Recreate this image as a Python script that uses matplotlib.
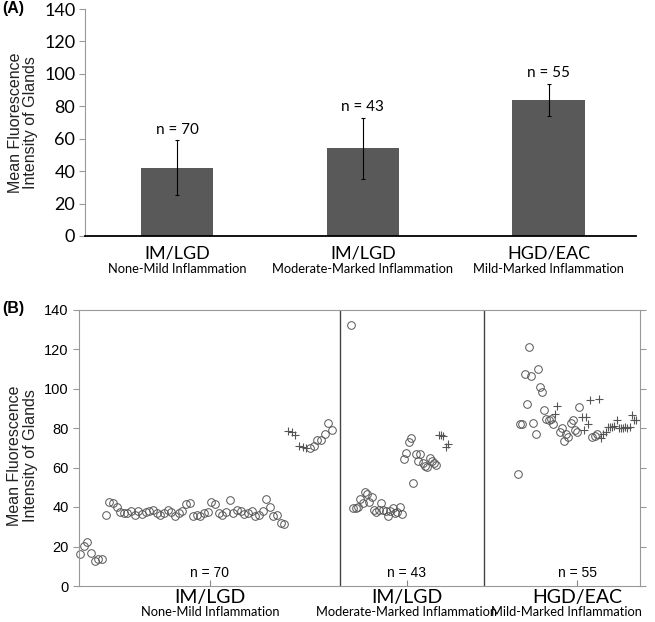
import numpy as np
import matplotlib.pyplot as plt
import matplotlib.transforms as mtransforms

# panel A: group means and SDs
groups = ['IM/LGD', 'IM/LGD', 'HGD/EAC']
subgroups = ['None-Mild Inflammation', 'Moderate-Marked Inflammation', 'Mild-Marked Inflammation']
n_labels = ['n = 70', 'n = 43', 'n = 55']
means = [42, 54, 84]
sds = [17, 19, 10]

# panel B: individual gland values (in plotted order), 'o' circle, '+' cross
g1_vals = [16, 20.3, 22.3, 16.9, 12.8, 13.9, 13.9, 36, 42.7, 42.2, 40.2, 37.5, 37, 36.8, 38, 36,
           38, 36.5, 37.5, 38, 38.5, 37, 36, 37, 38.5, 37.5, 35.3, 37, 38, 41.5, 42, 35.5, 35.8,
           35.3, 37, 37.5, 42.4, 41.5, 37, 35.8, 37.5, 43.4, 37, 38.5, 38, 36.5, 37, 38, 35.3, 36,
           38, 44, 40.2, 35.3, 35.8, 32, 31.6,
           78.5, 77.9, 76.5, 71, 70.6, 70.1,
           69.8, 71, 74, 74, 76.9, 82.4, 79.2]
g1_kind = ['o'] * 57 + ['+'] * 6 + ['o'] * 7

g2_vals = [132,
           39.4, 39.7, 40.2, 44.1, 42, 47.8, 46.5, 42.4, 45.3, 38.3, 37.5, 38.5, 42, 38.5, 38,
           35.3, 38, 39.4, 37.2, 37.7, 40.2, 36.3,
           64.2, 67.2, 73.1, 74.8, 51.9, 66.9, 63.3, 66.6, 62.2, 60.8, 60.1, 64.7, 63.3, 62.5, 61.3,
           76.5, 76.4, 76, 70.6, 71.8]
g2_kind = ['o'] * 38 + ['+'] * 5

g3_vals = [56.9, 81.9, 81.9, 107.3, 91.9, 120.8, 106.1, 82.3, 77.2, 110, 100.7, 98, 89.2, 84.5,
           83.8, 84.5, 81.9,
           87.3, 91.2,
           77.9, 80.2, 73.5, 76.9, 75.3, 82.3, 84.1, 79.1, 77.9, 90.4,
           85.5, 79.1, 85.5, 82.1, 94.1,
           75.3, 76, 77.2,
           94.8, 74.8, 77.2, 78, 80.6, 80.4, 80.7, 81.1, 83.8, 80.2, 80.2, 80.2, 80.7, 80.2, 80.7,
           86.7, 83.8, 83.8]
g3_kind = ['o'] * 17 + ['+'] * 2 + ['o'] * 10 + ['+'] * 5 + ['o'] * 3 + ['+'] * 18

calibri = ['Lato', 'DejaVu Sans']   # stand-in for the Calibri-looking labels
plt.rcParams['font.family'] = ['Liberation Sans', 'DejaVu Sans']

W, H = 655, 622
fig = plt.figure(figsize=(W / 100, H / 100), dpi=100)

# ---------------- (A) ----------------
axA = fig.add_axes([85 / W, 1 - 236 / H, (636 - 85) / W, (236 - 9) / H])
x = np.arange(len(means))
axA.bar(x, means, width=0.39, color='#595959', zorder=2)
axA.errorbar(x, means, yerr=sds, fmt='none', ecolor='black', elinewidth=0.8,
             capsize=1.5, capthick=0.8, zorder=3)
for xi, m, s, lab in zip(x, means, sds, n_labels):
    axA.text(xi, m + s + 2, lab, ha='center', va='bottom', fontsize=11, family=calibri)
axA.set_xlim(-0.495, 2.47)
axA.set_ylim(0, 140)
axA.set_yticks(np.arange(0, 141, 20))
axA.set_xticks([])
for sp in ['top', 'right']:
    axA.spines[sp].set_visible(False)
axA.spines['left'].set_color('#999999')
axA.spines['bottom'].set_color('black')
axA.spines['bottom'].set_linewidth(1.3)
axA.tick_params(axis='y', direction='out', length=4, color='#999999', labelsize=13, pad=3)
for lab in axA.get_yticklabels():
    lab.set_family(calibri)
axA.set_ylabel('Mean Fluorescence\nIntensity of Glands', fontsize=11.5, color='#222222',
               linespacing=1.05)
axA.yaxis.set_label_coords(-0.085, 0.5)
trA = mtransforms.blended_transform_factory(axA.transData, axA.transAxes)
for xi, g, sg in zip(x, groups, subgroups):
    axA.text(xi, -0.04, g, transform=trA, ha='center', va='top', fontsize=13, family=calibri)
    axA.text(xi, -0.12, sg, transform=trA, ha='center', va='top', fontsize=9.3, family=calibri)
fig.text(2 / W, 1 - 9 / H, '(A)', fontsize=11.5, fontweight='bold', va='center', ha='left')

# ---------------- (B) ----------------
axB = fig.add_axes([79 / W, 1 - 586 / H, (640 - 79) / W, (586 - 309.5) / H])
layout = [(1, 3.65), (272, 2.31), (439, 2.19)]   # start, spacing of each group along x
for (start, step), vals, kinds in zip(layout, [g1_vals, g2_vals, g3_vals],
                                      [g1_kind, g2_kind, g3_kind]):
    vals = np.array(vals)
    kinds = np.array(kinds)
    xs = start + step * np.arange(len(vals))
    c = kinds == 'o'
    axB.plot(xs[c], vals[c], 'o', mfc='none', mec='#555555', ms=5.5, mew=0.7, clip_on=False)
    axB.plot(xs[~c], vals[~c], '+', color='#555555', ms=6, mew=0.8, clip_on=False)

for xd in [261, 405]:
    axB.axvline(xd, color='#444444', lw=1.0)
axB.set_xlim(0, 561)
axB.set_ylim(0, 140)
axB.set_yticks(np.arange(0, 141, 20))
centers = [131, 328, 498]
sub_centers = [131, 328, 487]
axB.set_xticks(centers)
axB.set_xticklabels([])
axB.tick_params(axis='x', direction='in', length=4, color='#888888')
axB.tick_params(axis='y', direction='out', length=4, color='#999999', labelsize=10.5,
                left=True, right=True)
for sp in axB.spines.values():
    sp.set_color('#999999')
axB.set_ylabel('Mean Fluorescence\nIntensity of Glands', fontsize=11.5, color='#222222',
               linespacing=1.05)
axB.yaxis.set_label_coords(-0.073, 0.47)
trB = mtransforms.blended_transform_factory(axB.transData, axB.transAxes)
for xc, xs_, g, sg, lab in zip(centers, sub_centers, groups, subgroups, n_labels):
    axB.text(xc, 0.02, lab, transform=trB, ha='center', va='bottom', fontsize=10)
    axB.text(xc, -0.012, g, transform=trB, ha='center', va='top', fontsize=14, family=calibri)
    axB.text(xs_, -0.072, sg, transform=trB, ha='center', va='top', fontsize=9.3, family=calibri)
fig.text(2 / W, 1 - 309 / H, '(B)', fontsize=11.5, fontweight='bold', va='center', ha='left')

fig.savefig('out.png', dpi=100)
